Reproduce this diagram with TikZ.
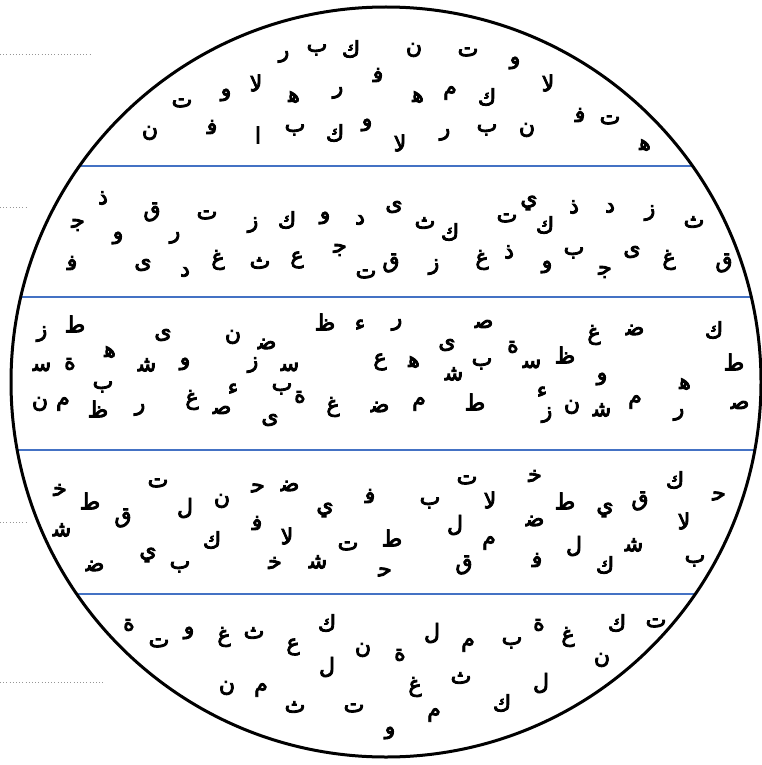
\documentclass[tikz,border=0pt]{standalone}
\usepackage{fontspec}
\newfontfamily\arabicfont[Script=Arabic,BoldFont={DejaVu Sans},BoldFeatures={FakeBold=4}]{DejaVu Sans}
\definecolor{bandblue}{RGB}{68,114,196}
\definecolor{dotgray}{RGB}{150,150,150}
\tikzset{
  ch/.style={font=\arabicfont\bfseries\fontsize{22}{22}\selectfont, inner sep=0pt, anchor=center},
  band/.style={draw=bandblue, line width=1.1pt},
  rim/.style={draw=black, line width=3pt},
  guide/.style={draw=dotgray, line width=1pt, dash pattern=on 1pt off 2.2pt}
}
\begin{document}
\begin{tikzpicture}[x=1pt,y=-1pt]
\useasboundingbox (0,0) rectangle (762,765);
% dotted guide stubs on the left
\coordinate (d1a) at (0,55);  \coordinate (d1b) at (90,55);
\coordinate (d2a) at (0,207); \coordinate (d2b) at (28,207);
\coordinate (d3a) at (0,522); \coordinate (d3b) at (28,522);
\coordinate (d4a) at (0,682); \coordinate (d4b) at (105,682);
\draw[guide] (d1a) -- (d1b);
\draw[guide] (d2a) -- (d2b);
\draw[guide] (d3a) -- (d3b);
\draw[guide] (d4a) -- (d4b);
% band separators, clipped to the disc
\begin{scope}
\clip (386,382) circle[radius=375pt];
\foreach \yy in {166,297,450,594} \draw[band] (0,\yy) -- (762,\yy);
\end{scope}
\draw[rim] (386,382) circle[radius=375pt];
% band 1
\foreach \px/\py/\gl [count=\k] in {284/57/ر,317/50/ب,351/49/ك,414/50/ن,468/52/ت,
  515/63/و,378/75/ﻓ,548/83/ﻻ,
  256/83/ﻻ,226/95/و,182/103/ت,338/93/ر,294/97/ﻫ,418/97/ﻫ,450/93/م,487/97/ك,
  580/115/ﻓ,610/120/ت,150/133/ن,212/127/ﻓ,258/135/ا,295/130/ب,335/133/ك,367/125/و,400/143/ﻻ,445/135/ر,487/130/ب,527/130/ن,645/145/ﻫ}
  \node[ch] (a\k) at (\px,\py) {\gl};
% band 2
\foreach \px/\py/\gl [count=\k] in {103/198/ذ,152/212/ق,207/215/ت,253/225/ز,287/220/ك,325/218/و,360/220/د,394/207/ى,425/223/ث,450/232/ك,507/218/ت,529/203/ي,545/225/ك,574/207/ذ,610/208/د,650/213/ز,694/222/ث,
  78/225/ﺟ,118/238/و,175/238/ر,
  72/263/ﻓ,143/265/ى,185/272/د,218/260/غ,260/263/ث,297/260/ع,340/250/ﺟ,366/274/ت,391/263/ق,434/267/ز,482/260/غ,509/252/ذ,547/267/و,574/253/ب,605/272/ﺟ,632/252/ى,669/260/غ,724/263/ق}
  \node[ch] (b\k) at (\px,\py) {\gl};
% band 3
\foreach \px/\py/\gl [count=\k] in {42/334/ز,75/324/ط,163/335/ى,233/337/ن,267/344/ﺿ,325/322/ظ,360/325/ء,397/325/ر,484/324/ﺻ,447/345/ى,594/335/غ,635/330/ﺿ,714/330/ك,
  42/367/ﺳ,70/364/ة,110/352/ﻫ,147/365/ﺷ,185/364/و,253/365/ز,290/367/ﺳ,380/362/ع,414/362/ﻫ,482/364/ب,454/374/ﺷ,513/347/ة,532/364/ﺳ,565/355/ظ,734/362/ط,
  103/387/ب,233/389/ء,282/389/ب,602/379/و,685/384/ﻫ,542/392/ء,
  40/404/ن,63/404/م,98/409/ظ,140/410/ر,192/400/غ,222/410/ﺻ,270/420/ى,300/397/ة,333/407/غ,380/407/ﺿ,419/404/م,475/402/ط,547/415/ز,572/407/ن,602/410/ﺷ,635/402/م,679/415/ر,740/405/ﺻ}
  \node[ch] (c\k) at (\px,\py) {\gl};
% band 4
\foreach \px/\py/\gl [count=\k] in {60/490/ﺧ,90/501/ط,123/518/ق,158/483/ت,185/508/ل,222/501/ن,258/488/ﺣ,290/486/ﺿ,325/510/ي,370/496/ﻓ,
  62/530/ﺷ,257/523/ﻓ,212/540/ك,287/536/ﻻ,348/546/ت,148/555/ي,95/566/ﺿ,180/567/ب,275/563/ﺧ,318/562/ﺷ,
  467/480/ت,535/476/ﺧ,675/480/ك,719/496/ﺣ,430/503/ب,490/500/ﻻ,565/501/ط,605/510/ي,640/501/ق,
  455/525/ل,535/521/ﺿ,684/521/ﻻ,392/538/ط,489/543/م,634/545/ﺷ,574/546/ل,537/560/ﻓ,605/565/ك,695/561/ب,464/565/ق,385/572/ﺣ}
  \node[ch] (e\k) at (\px,\py) {\gl};
% band 5
\foreach \px/\py/\gl [count=\k] in {129/625/ة,159/643/ت,189/633/و,224/637/غ,254/633/ث,293/647/ع,327/623/ك,327/667/ل,363/650/ن,400/655/ة,432/633/ل,468/645/م,512/643/ب,539/625/ة,568/637/غ,602/660/ن,617/623/ك,656/623/ت,
  227/688/ن,261/690/م,295/707/ث,354/708/ت,415/687/غ,461/678/ث,434/715/م,502/703/ك,541/683/ل,390/733/و}
  \node[ch] (f\k) at (\px,\py) {\gl};
\end{tikzpicture}
\end{document}
